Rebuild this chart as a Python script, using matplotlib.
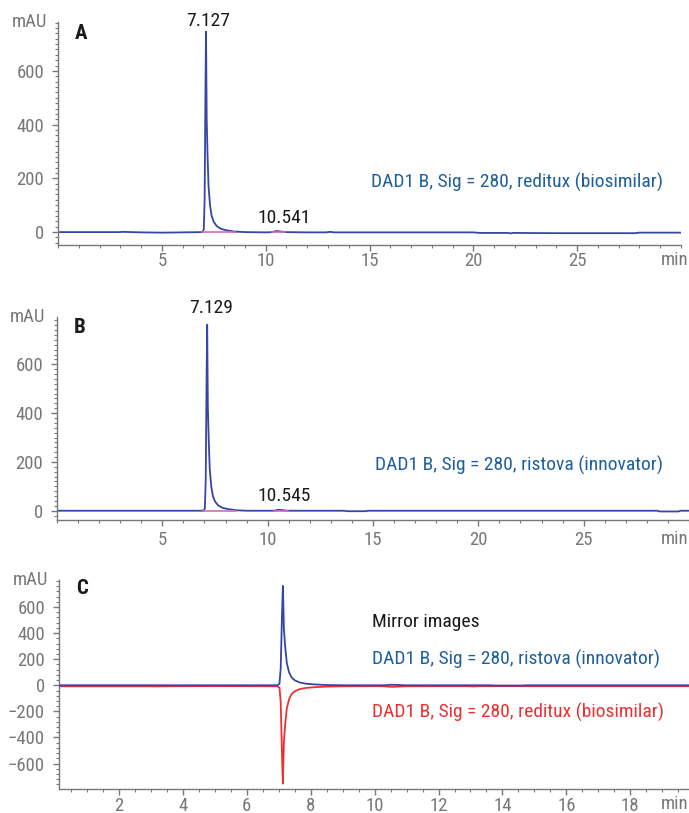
import matplotlib
matplotlib.use("Agg")
import matplotlib.pyplot as plt
from matplotlib.ticker import MultipleLocator

plt.rcParams["font.family"] = ["Liberation Sans Narrow", "DejaVu Sans Condensed",
                               "Roboto Condensed", "Roboto", "DejaVu Sans"]
plt.rcParams["font.stretch"] = "condensed"

# reditux (biosimilar) trace
time_a = [0.0, 1.0, 2.0, 3.0, 3.1, 4.0, 5.0, 6.0, 6.95, 7.02, 7.06, 7.10, 7.127,
          7.16, 7.20, 7.25, 7.32, 7.40, 7.50, 7.65, 7.85, 8.10, 8.50, 9.00, 10.0,
          10.30, 10.45, 10.541, 10.65, 10.95, 12.0, 12.9, 13.1, 13.3, 15.0, 18.0,
          20.0, 20.3, 20.5, 21.7, 21.8, 21.9, 24.0, 27.8, 28.0, 28.2, 30.0]
mau_a = [0, 0, 0, 0, 1, -1, -2, -1, 0, 10, 120, 520, 746,
         420, 290, 170, 100, 60, 38, 22, 12, 7, 2, 0, -1,
         0, 3, 4, 3, 0, -1, -1, 1, -1, -1, -1,
         -1, -3, -3, -3, -5, -3, -4, -4, -2, -2, -2]

# ristova (innovator) trace
time_b = [0.0, 3.0, 5.0, 6.0, 6.95, 7.02, 7.06, 7.10, 7.129, 7.16, 7.20, 7.25,
          7.32, 7.40, 7.50, 7.65, 7.85, 8.10, 8.50, 9.00, 9.8, 10.30, 10.45,
          10.545, 10.65, 10.95, 12.0, 13.6, 13.8, 14.6, 14.8, 20.0, 25.0, 28.5,
          28.6, 29.5, 29.6, 30.0]
mau_b = [0, 0, 0, 0, 0, 10, 130, 540, 762, 430, 295, 172,
         100, 60, 38, 22, 12, 7, 2, 0, 0, 0, 3,
         4, 3, 0, 0, 0, -2, -2, 0, 0, 0, 0,
         -3, -3, 0, 0]

# labelled peaks (retention time, min)
peaks_a = [7.127, 10.541]
peaks_b = [7.129, 10.545]
# integration baselines drawn under the peaks
bases_a = [(6.95, 8.50), (10.30, 10.95)]
bases_b = [(6.95, 8.50), (10.30, 10.95)]
# baseline shift of the inverted trace in panel C
mirror_offset = -8

W, H = 689, 813
fig = plt.figure(figsize=(W / 100, H / 100), dpi=100)

TRACE = "#3446a6"
PINK = "#d46ab4"
TXT_BLUE = "#1f5f9c"
RED = "#ee3030"
GREY = "#777777"
FS = 14
TICK_FS = 13.5


def add_axes_px(left, top, right, bottom):
    return fig.add_axes([left / W, 1 - bottom / H, (right - left) / W, (bottom - top) / H])


def style(ax, xmin, ymin, xpad):
    for s in ["top", "right"]:
        ax.spines[s].set_visible(False)
    for s in ["left", "bottom"]:
        ax.spines[s].set_color(GREY)
        ax.spines[s].set_linewidth(1.0)
    ax.xaxis.set_minor_locator(MultipleLocator(xmin))
    ax.yaxis.set_minor_locator(MultipleLocator(ymin))
    ax.tick_params(which="both", direction="out", colors=GREY, labelcolor=GREY,
                   labelsize=TICK_FS)
    ax.tick_params(which="major", length=4, width=1)
    ax.tick_params(which="minor", length=2.5, width=0.8)
    ax.tick_params(axis="x", pad=xpad)
    ax.tick_params(axis="y", pad=6)
    ax.text(-0.018, 1.0, "mAU", transform=ax.transAxes, ha="right", va="center",
            color=GREY, fontsize=TICK_FS)
    # "min" unit at right end of the tick label row
    ax.annotate("min", xy=(688 / W, 0), xycoords=("figure fraction", "axes fraction"),
                xytext=(0, -xpad - 3), textcoords="offset points", ha="right", va="top",
                color=GREY, fontsize=TICK_FS, annotation_clip=False)


def chromatogram(ax, t, y, peaks, bases, label, panel, xlim, ylim, xpad, lab_pos, label_y):
    ax.plot(t, y, color=TRACE, lw=1.3)
    for a, b in bases:
        ax.plot([a, b], [0, 0], color=PINK, lw=1.2)
    ax.set_xlim(*xlim)
    ax.set_ylim(*ylim)
    ax.set_xticks([5, 10, 15, 20, 25])
    ax.set_yticks([0, 200, 400, 600])
    style(ax, 1, 20, xpad)
    for p, (dx, yy) in zip(peaks, lab_pos):
        ax.text(p + dx, yy, f"{p:.3f}", ha="center", va="center", fontsize=FS,
                color="#1a1a1a", clip_on=False)
    ax.text(0.027, 0.95, panel, transform=ax.transAxes, fontsize=15, fontweight="bold",
            ha="left", va="center", color="#1a1a1a")
    ax.text(0.503, label_y, label, transform=ax.transAxes,
            fontsize=FS, color=TXT_BLUE, ha="left", va="center")


ax_a = add_axes_px(58, 22, 681, 245)
chromatogram(ax_a, time_a, mau_a, peaks_a, bases_a,
             "DAD1 B, Sig = 280, reditux (biosimilar)", "A",
             (0, 30), (-48, 782), 1, [(0.1, 786), (0.36, 54)], 0.2825)

ax_b = add_axes_px(57, 317, 689, 520)
chromatogram(ax_b, time_b, mau_b, peaks_b, bases_b,
             "DAD1 B, Sig = 280, ristova (innovator)", "B",
             (0, 30), (-38, 794), 4, [(0.19, 829), (0.22, 60)], 0.271)

# panel C: mirror images
ax_c = add_axes_px(59, 580, 689, 789)
ax_c.plot(time_b, mau_b, color=TRACE, lw=1.3, zorder=3)
ax_c.plot(time_a, [-v + mirror_offset for v in mau_a], color=RED, lw=1.3, zorder=2)
ax_c.set_xlim(0.12, 19.84)
ax_c.set_ylim(-795, 807)
ax_c.set_xticks(range(2, 20, 2))
ax_c.set_yticks(range(-600, 601, 200))
style(ax_c, 0.5, 40, 1.5)
ax_c.text(0.027, 0.96, "C", transform=ax_c.transAxes, fontsize=15, fontweight="bold",
          ha="left", va="center", color="#1a1a1a")
ax_c.text(0.497, 0.80, "Mirror images", transform=ax_c.transAxes, fontsize=FS,
          color="#1a1a1a", ha="left", va="center")
ax_c.text(0.497, 0.622, "DAD1 B, Sig = 280, ristova (innovator)", transform=ax_c.transAxes,
          fontsize=FS, color=TXT_BLUE, ha="left", va="center")
ax_c.text(0.497, 0.368, "DAD1 B, Sig = 280, reditux (biosimilar)", transform=ax_c.transAxes,
          fontsize=FS, color=RED, ha="left", va="center")

fig.savefig("out.png", dpi=100)
